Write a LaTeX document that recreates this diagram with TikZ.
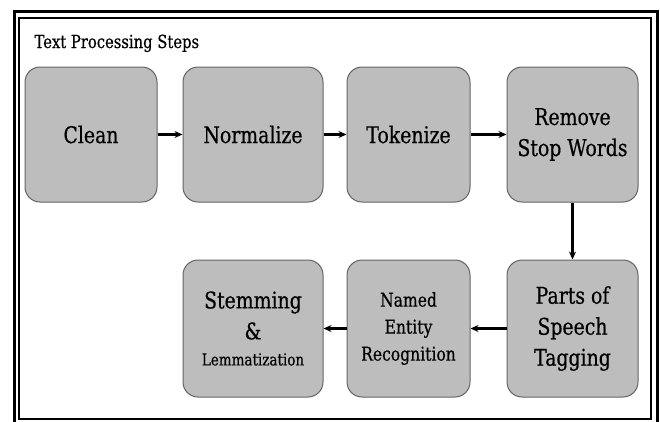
\documentclass[tikz,border=0pt]{standalone}
\usepackage{fontspec}
\setmainfont{DejaVu Serif}[FakeStretch=0.82,FakeBold=0.5]
\usetikzlibrary{arrows.meta}
\definecolor{stepfill}{RGB}{189,189,189}
\definecolor{stepline}{RGB}{100,100,100}
\begin{document}
\begin{tikzpicture}[x=1pt,y=-1pt,
    stepbox/.style={draw=stepline,line width=1pt,fill=stepfill,rounded corners=15pt,
      align=center,inner sep=0pt,font=\fontsize{23}{31}\selectfont},
    flow/.style={line width=2.2pt,-{Stealth[length=8pt,width=7pt]}}]
  \useasboundingbox (0,0) rectangle (660,421);
  % frame
  \draw[line width=3pt] (14,11.3) rectangle (657,430);
  \draw[line width=2pt] (18.8,18) rectangle (650.5,418.5);
  \node[anchor=base west,font=\fontsize{18}{22}\selectfont] (title) at (31,48) {Text Processing Steps};
  % top row
  \node[stepbox,minimum width=132pt,minimum height=135pt] (clean) at (91,134.5) {Clean};
  \node[stepbox,minimum width=140pt,minimum height=135pt] (norm) at (253,134.5) {Normalize};
  \node[stepbox,minimum width=123pt,minimum height=135pt] (token) at (408.5,134.5) {Tokenize};
  \node[stepbox,minimum width=131pt,minimum height=135pt] (stop) at (572.5,134.5) {Remove\\Stop Words};
  % bottom row
  \node[stepbox,minimum width=131pt,minimum height=137pt] (pos) at (572.5,328.5) {Parts of\\Speech\\Tagging};
  \node[stepbox,minimum width=123pt,minimum height=137pt,font=\fontsize{19}{27}\selectfont] (ner) at (408.5,328.5) {Named\\Entity\\Recognition};
  \node[stepbox,minimum width=140pt,minimum height=137pt] (stem) at (253,328.5) {Stemming\\\&\\[-5pt]{\fontsize{16.5}{20}\selectfont Lemmatization}};
  % connectors
  \draw[flow] (clean) -- (norm);
  \draw[flow] (norm) -- (token);
  \draw[flow] (token) -- (stop);
  \draw[flow] (stop) -- (pos);
  \draw[flow] (pos) -- (ner);
  \draw[flow] (ner) -- (stem);
\end{tikzpicture}
\end{document}
